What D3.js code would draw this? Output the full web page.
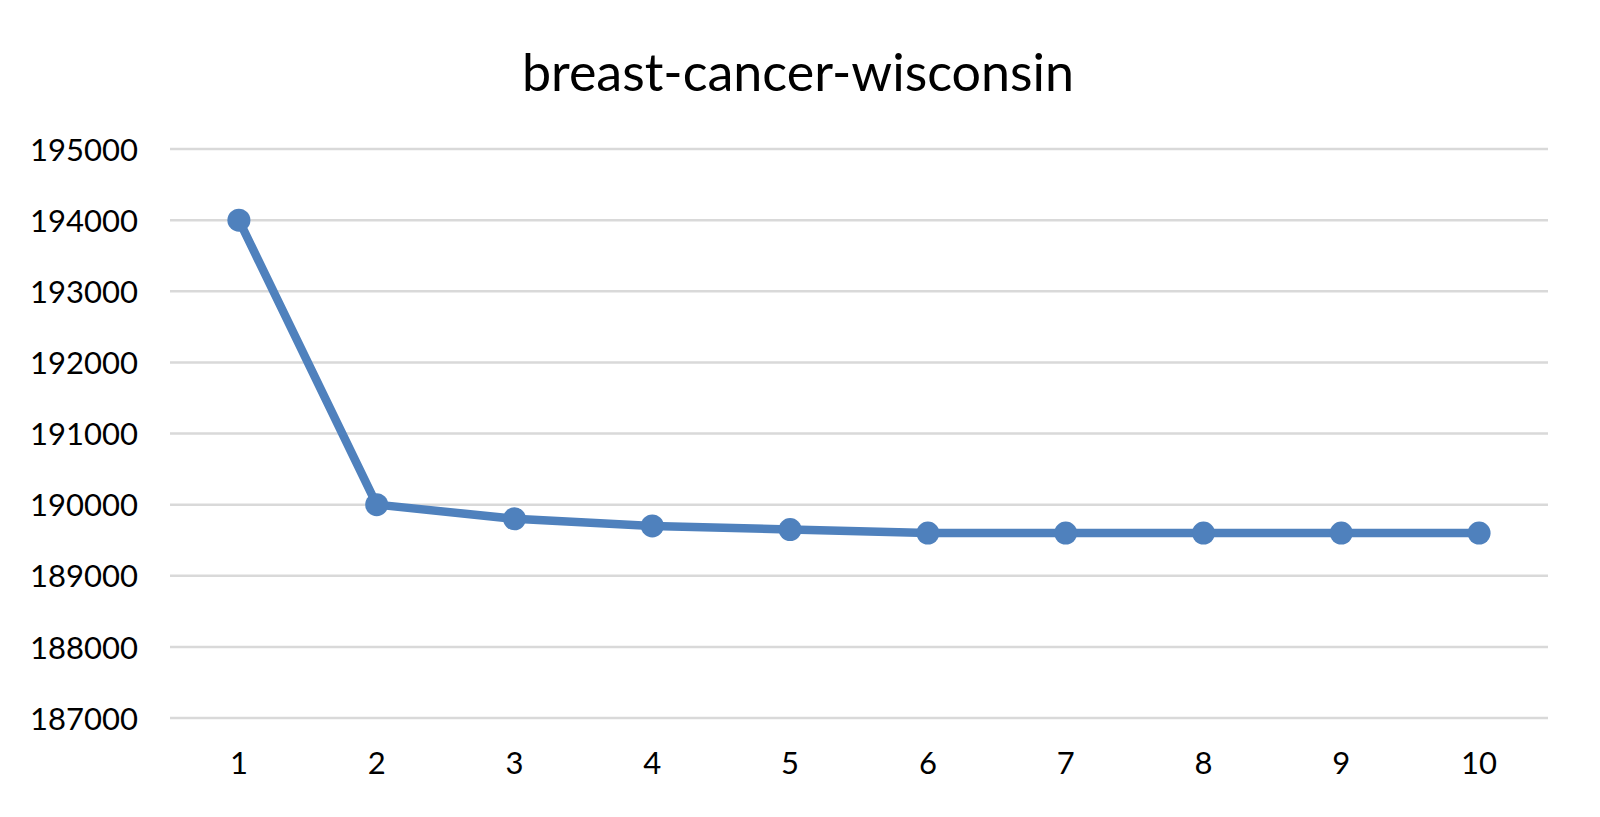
<!DOCTYPE html>
<html>
<head>
<meta charset="utf-8">
<script src="https://cdn.jsdelivr.net/npm/d3@7"></script>
<style>
  body { margin: 0; background: #fff; }
  text { font-family: Lato, "Open Sans", sans-serif; fill: #000; }
</style>
</head>
<body>
<svg id="chart"></svg>
<script>
// chart values
const title = 'breast-cancer-wisconsin';
const iterations = ['1', '2', '3', '4', '5', '6', '7', '8', '9', '10'];
const values = [194000, 190000, 189800, 189700, 189650, 189600, 189600, 189600, 189600, 189600];
const yTicks = [187000, 188000, 189000, 190000, 191000, 192000, 193000, 194000, 195000];

const width = 1600, height = 817;
const margin = {top: 149, right: 52, bottom: 99, left: 170};

const svg = d3.select('#chart')
    .attr('width', width)
    .attr('height', height);

const x = d3.scaleBand()
    .domain(iterations)
    .range([margin.left, width - margin.right]);

const y = d3.scaleLinear()
    .domain([187000, 195000])
    .range([height - margin.bottom, margin.top]);

// Title
svg.append('text')
    .attr('x', 798)
    .attr('y', 91)
    .attr('text-anchor', 'middle')
    .style('font-size', '52px')
    .text(title);

// Gridlines
svg.append('g')
    .selectAll('line')
    .data(yTicks)
    .enter().append('line')
    .attr('x1', margin.left)
    .attr('x2', width - margin.right)
    .attr('y1', d => y(d))
    .attr('y2', d => y(d))
    .attr('stroke', '#d9d9d9')
    .attr('stroke-width', 2.5);

// Y axis labels
const yAxis = svg.append('g')
    .attr('transform', `translate(${margin.left - 32},0)`)
    .call(d3.axisLeft(y).tickValues(yTicks).tickSize(0).tickPadding(0).tickFormat(d3.format('d')));
yAxis.select('.domain').remove();
yAxis.selectAll('text')
    .style('font-size', '31px')
    .attr('dy', '0.36em');

// X axis labels
const xAxis = svg.append('g')
    .attr('transform', `translate(0,${height - margin.bottom})`)
    .call(d3.axisBottom(x).tickSize(0).tickPadding(0));
xAxis.select('.domain').remove();
xAxis.selectAll('text')
    .style('font-size', '31px')
    .attr('dy', null)
    .attr('y', 56);

// Line
const line = d3.line()
    .x((d, i) => x(iterations[i]) + x.bandwidth() / 2)
    .y(d => y(d));

svg.append('path')
    .datum(values)
    .attr('d', line)
    .attr('fill', 'none')
    .attr('stroke', '#4f81bd')
    .attr('stroke-width', 8.5)
    .attr('stroke-linejoin', 'round');

// Markers
svg.append('g')
    .selectAll('circle')
    .data(values)
    .enter().append('circle')
    .attr('cx', (d, i) => x(iterations[i]) + x.bandwidth() / 2)
    .attr('cy', d => y(d))
    .attr('r', 11.5)
    .attr('fill', '#4f81bd');
</script>
</body>
</html>
